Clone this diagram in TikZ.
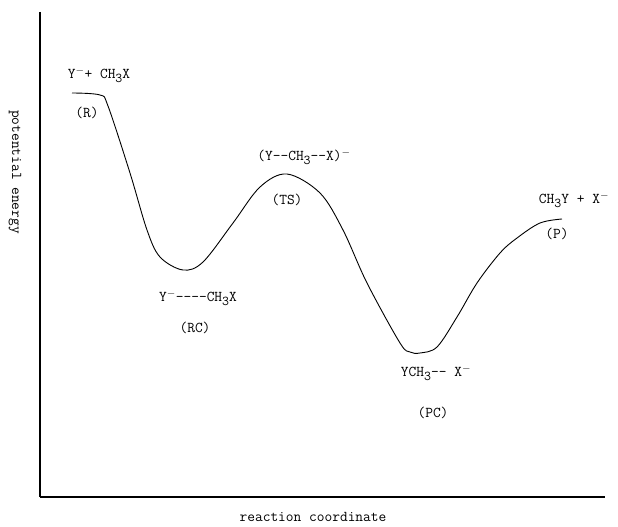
\documentclass[tikz,border=0pt]{standalone}
\usepackage{fontspec}
\usepackage{tikz}
\usetikzlibrary{positioning}
\newcommand{\subthree}{\raisebox{-0.55ex}{\fontsize{13.5}{13.5}\selectfont 3}}

\begin{document}
\begin{tikzpicture}[x=1pt, y=-1pt, font=\ttfamily\fontsize{15}{17}\selectfont,
        lbl/.style={inner sep=1pt, anchor=center}]
        \useasboundingbox (0,0) rectangle (618,527);
        % axes
        \coordinate (top) at (40,12);
        \coordinate (orig) at (40,497);
        \coordinate (right) at (605,497);
        \draw[line width=1.6pt] (top) -- (orig);
        \draw[line width=1.1pt] (orig) -- (right);
        \node[lbl, rotate=-90] (yl) at (15,172) {potential energy};
        \node[lbl] (xl) at (313,517) {reaction coordinate};
        % energy profile
        \draw[line width=0.9pt] plot[smooth, tension=0.55] coordinates {
              (72,93) (100,95) (108,106) (130,173) (147,230) (160,257)
              (183,270) (203,262) (233,223) (260,187) (287,174) (320,193)
              (343,230) (367,283) (400,343) (410,352) (420,353) (437,347)
              (457,317) (477,283) (500,253) (517,238) (540,223) (562,219)};
        % labels
        \node[lbl] (r) at (99,75) {Y$^-$+ CH\subthree X};
        \node[lbl] (rn) at (87,113) {(R)};
        \node[lbl] (rc) at (198,298) {Y$^-$----CH\subthree X};
        \node[lbl] (rcn) at (195,328) {(RC)};
        \node[lbl] (ts) at (304,157) {(Y--CH\subthree--X)$^-$};
        \node[lbl] (tsn) at (287,200) {(TS)};
        \node[lbl] (pc) at (436,373) {YCH\subthree-- X$^-$};
        \node[lbl] (pcn) at (433,413) {(PC)};
        \node[lbl] (p) at (574,200) {CH\subthree Y + X$^-$};
        \node[lbl] (pn) at (557,234) {(P)};
      \end{tikzpicture}
\end{document}
